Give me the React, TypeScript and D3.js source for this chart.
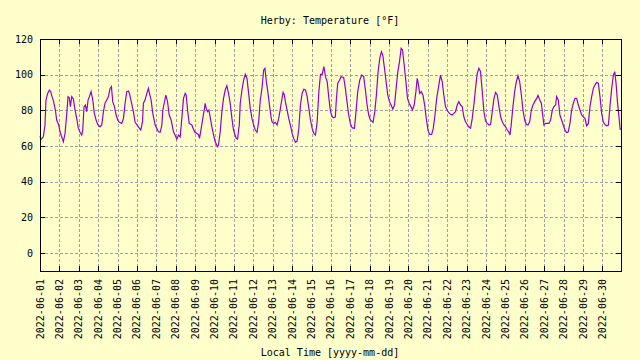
import React, { useEffect, useRef } from 'react';
import * as d3 from 'd3';

// hours since 2022-06-01 00:00 local time, and the reading at that hour (°F)
const hourOffsets = [
  0, 1.2, 4.1, 6.2, 7.4, 9.5, 11.6, 13.2, 14.9, 16.9, 19, 20.7, 23.1, 24.8, 26.8, 28.9,
  31, 33, 34.7, 36.3, 37.6, 39.3, 41.3, 43.4, 45.4, 47.5, 49.6, 51.6, 52.9, 54.5, 56.2, 57.8,
  59.5, 61.1, 63.2, 65.3, 67.3, 69.4, 71.4, 74.3, 76.4, 78.5, 80.5, 82.6, 84.7, 86.7, 88.4, 90,
  92.1, 94.2, 96.2, 98.3, 101.2, 103.3, 105.3, 107.4, 109.5, 110.7, 112.5, 115.6, 117.7, 121.8, 124.7, 126.8,
  128, 130, 132.2, 134.2, 135.5, 137.5, 139.6, 142.5, 146.6, 148.7, 150.8, 152, 153.7, 155.7, 157.8, 159.9,
  162.3, 165.2, 168.1, 169.3, 171.4, 173.5, 175.5, 177.6, 179.7, 180.9, 182.6, 184.6, 187.9, 191.2, 194.1, 196.1,
  197.4, 199.5, 201.5, 203.2, 204.4, 205.7, 207.3, 209, 210.6, 212.7, 214.8, 216.8, 219.7, 220.9, 223, 225.1,
  227.1, 229.2, 231.3, 233.3, 235.4, 237.5, 239.5, 242.8, 244.5, 246.6, 247.8, 249.9, 252, 254, 256.1, 258.2,
  260.2, 262.3, 264.4, 266.4, 268.5, 270.6, 272.6, 274.7, 276.8, 278.4, 280.1, 282.2, 284.2, 285.9, 287.1, 289.2,
  291.3, 293.4, 295.4, 297.5, 299.5, 300.8, 302.4, 303.7, 305.8, 307.8, 309.9, 312, 314, 316.1, 318.2, 320.3,
  322.3, 324.4, 326.5, 328.5, 330.6, 332.7, 334.7, 336.8, 338.9, 340.9, 343, 345.1, 347.1, 349.2, 351.3, 353.3,
  355.4, 357.5, 359.5, 361.6, 363.4, 365.5, 366.7, 368.4, 370.8, 372.5, 375.8, 377.9, 379.9, 382, 384.1, 386.2,
  389.1, 391.1, 393.2, 395.7, 398.1, 400.6, 402.7, 404.8, 406.8, 408.9, 412.2, 414.3, 416.3, 418.4, 420.5, 422.5,
  424.2, 426.3, 428.3, 430.4, 432.5, 434.5, 436.6, 438.7, 440.7, 442.8, 444.9, 446.9, 448.6, 450.7, 452.8, 454.8,
  456.9, 459, 461, 463.1, 465.2, 466.8, 468.1, 469.8, 471.8, 473.9, 476, 478, 480.1, 482.2, 484.7, 486.7,
  488.8, 490.9, 492.9, 495.6, 497.7, 499.7, 501.8, 503.9, 505.9, 508, 510.1, 512.2, 514.2, 516.3, 518.3, 520.4,
  522.5, 524.5, 526.6, 528.7, 530.7, 532.8, 534.9, 536.9, 539, 541.1, 543.2, 545.2, 547.3, 549.4, 551.4, 553.5,
  555.6, 557.6, 559.7, 561.8, 563.8, 565.9, 568, 570, 572.1, 574.2, 576.2, 578.3, 580.4, 581.6, 583.3, 585.3,
  587.4, 589.5, 591.5, 593.6, 595.7, 597.7, 599.8, 601.9, 603.9, 606, 608.1, 610.1, 612.2, 614.7, 616.3, 618.4,
  620.5, 621.6, 623.6, 625.7, 629.8, 631.9, 634, 636, 638.1, 639.3, 641.4, 643.4, 645.5, 647.6, 649.6, 651.7,
  653.8, 655.8, 657.9, 660, 662, 664.1, 666.2, 668.2, 670.3, 672.4, 674.4, 676.5, 678.6, 680.6, 682.7, 684.8,
  686.8, 688.9, 691, 693, 695.1, 697.2, 699.3, 701.3, 703.4, 705.5, 707.5, 709.6, 711.3, 712.9, 714.6, 716.7,
  717.9, 719,
];

const tempsF = [
  65.6, 63.7, 65.2, 71.8, 85.8, 89.5, 91.4, 90.5, 87.7, 84.9, 80.2, 74.6, 71.8, 68, 65.2, 62.4,
  67.1, 77.4, 87.7, 87.1, 82.1, 87.7, 86.4, 80.2, 75.5, 69.9, 67.7, 66.2, 69, 82.1, 83, 79.3,
  85.8, 87.7, 90.5, 85.8, 78.3, 74.6, 72.1, 70.8, 71.8, 79.3, 84, 85.8, 87.7, 92.3, 93.3, 84.9,
  82.1, 77.4, 74.6, 73.3, 72.7, 75.5, 84, 90.5, 90.8, 89.5, 85.8, 79.3, 73.3, 70.8, 69, 73.6,
  84, 85.8, 89.5, 92.3, 89.5, 85.8, 78.3, 71.8, 68, 67.7, 71.8, 80, 84, 88.6, 84.9, 77.4,
  74.6, 68, 65.2, 63.9, 66.2, 65.2, 75.5, 86.7, 89.5, 88.6, 80.2, 72.7, 71.8, 68, 67.1, 66.5,
  64.3, 69.9, 75.5, 80.2, 83.9, 81.1, 79.3, 80.2, 76.4, 70.8, 66.2, 62.4, 59.6, 60.6, 68, 79.3,
  86.7, 91.4, 93.8, 89.5, 84, 75.5, 69, 64.3, 63.9, 71.8, 84, 91.4, 97, 100.2, 98, 89.5,
  81.1, 75.5, 71.8, 69, 67.7, 73.6, 85.8, 92.3, 102.6, 103.6, 96.1, 89.5, 82.1, 76.4, 73.6, 72.7,
  73.3, 71.8, 75.5, 81.1, 86.7, 90.1, 88.6, 84.9, 80.2, 75.5, 71.8, 67.1, 64.3, 62.1, 62.8, 69.9,
  83, 89.5, 91.8, 91.4, 87.7, 81.1, 74.6, 69.9, 67.1, 66.2, 73.6, 90.5, 100.2, 100.2, 104.5, 98.9,
  96.1, 86.7, 79.3, 76.4, 75.9, 76.4, 85.8, 95.1, 97, 98.9, 98.5, 92.3, 84.9, 77.4, 72.7, 70.3,
  69.9, 79.3, 90.5, 97, 99.8, 98.9, 91.4, 83, 77.4, 74.6, 73.3, 79.3, 88.6, 101.7, 109.2, 112.9,
  111, 103.6, 96.1, 88.6, 84.9, 83, 80.7, 83, 92.3, 101.7, 107.3, 114.8, 113.8, 105.4, 96.1, 86.7,
  83.9, 82.1, 80.2, 83, 90.5, 98, 95.1, 89.5, 90.5, 88.6, 83, 75.5, 69, 66.5, 66.5, 69.9,
  77.4, 86.7, 92.3, 99.8, 96.1, 88.6, 82.1, 80.2, 78.7, 77.8, 77.4, 78.3, 79.3, 83, 84.9, 83,
  82.1, 76.4, 73.6, 72.1, 70.8, 69.9, 75.5, 83, 92.3, 100.7, 103.6, 101.7, 90.5, 79.3, 74, 72.7,
  71.8, 72.1, 79.3, 86.7, 90.1, 88.6, 82.1, 76.4, 73.6, 71.8, 70.8, 69, 67.7, 66.2, 72.7, 82.1,
  90.5, 96.1, 99.4, 96.1, 88.6, 80.2, 74.6, 72.1, 71.8, 73.6, 80.2, 83, 84.9, 86.7, 88.4, 86,
  83.9, 79.3, 71.8, 72.7, 72.7, 74.6, 80.2, 82.1, 83, 87.7, 85.8, 77.4, 74.6, 71.8, 69, 67.5,
  68, 72.7, 80.2, 83.9, 86.7, 86.7, 83, 80.2, 77.4, 76.4, 75.5, 71.4, 72.7, 82.1, 87.7, 92.3,
  94.2, 95.7, 95.1, 87.7, 78.3, 73.3, 72.1, 71.4, 71.8, 83, 92.3, 99.8, 101.7, 95.1, 84.9, 75.5,
  69.5, 69.5,
];

const yTickValues = [0, 20, 40, 60, 80, 100, 120];
const startDay = new Date(2022, 5, 1, 0, 0);
const endTime = new Date(2022, 5, 30, 23, 0);

const App: React.FC = () => {
  const svgRef = useRef<SVGSVGElement | null>(null);

  useEffect(() => {
    if (!svgRef.current) return;
    const svg = d3.select(svgRef.current);
    svg.selectAll('*').remove();

    const width = 640;
    const height = 360;
    const left = 40, right = 621, top = 39, bottom = 271;
    const font = '"DejaVu Sans Mono", "Liberation Mono", monospace';
    const tickLen = 5;

    const x = d3.scaleTime().domain([startDay, endTime]).range([left, right]);
    const y = d3.scaleLinear().domain([-10, 120]).range([bottom, top]);
    const days = d3.timeDay.range(startDay, endTime);
    const fmt = d3.timeFormat('%Y-%m-%d');

    svg.append('rect').attr('width', width).attr('height', height).style('fill', '#ffffcc');

    // dashed grid
    svg.selectAll('line.vgrid')
      .data(days.slice(1))
      .enter()
      .append('line')
      .attr('class', 'vgrid')
      .attr('x1', (d) => Math.round(x(d)) + 0.5)
      .attr('x2', (d) => Math.round(x(d)) + 0.5)
      .attr('y1', top)
      .attr('y2', bottom)
      .style('stroke', '#a0a0a0')
      .style('stroke-width', 1)
      .style('stroke-dasharray', '3,2');

    svg.selectAll('line.hgrid')
      .data(yTickValues.filter((v) => v < 120))
      .enter()
      .append('line')
      .attr('class', 'hgrid')
      .attr('x1', left)
      .attr('x2', right)
      .attr('y1', (d) => Math.round(y(d)) + 0.5)
      .attr('y2', (d) => Math.round(y(d)) + 0.5)
      .style('stroke', '#a0a0a0')
      .style('stroke-width', 1)
      .style('stroke-dasharray', '3,2');

    // temperature line
    const points = hourOffsets.map((h, i) => ({ t: d3.timeMinute.offset(startDay, Math.round(h * 60)), v: tempsF[i] }));
    const line = d3.line<{ t: Date; v: number }>()
      .x((d) => x(d.t))
      .y((d) => y(d.v));
    svg.append('path')
      .datum(points)
      .attr('d', line)
      .style('fill', 'none')
      .style('stroke', '#9400d3')
      .style('stroke-width', 1.2)
      .style('stroke-linejoin', 'miter');

    // border
    svg.append('rect')
      .attr('x', left + 0.5)
      .attr('y', top + 0.5)
      .attr('width', right - left)
      .attr('height', bottom - top)
      .style('fill', 'none')
      .style('stroke', 'black')
      .style('stroke-width', 1);

    // ticks on all four sides, pointing inward
    const ticks = svg.append('g').style('stroke', 'black').style('stroke-width', 1);
    yTickValues.forEach((v) => {
      const yy = Math.round(y(v)) + 0.5;
      ticks.append('line').attr('x1', left).attr('x2', left + tickLen).attr('y1', yy).attr('y2', yy);
      ticks.append('line').attr('x1', right - tickLen).attr('x2', right).attr('y1', yy).attr('y2', yy);
    });
    days.forEach((d) => {
      const xx = Math.round(x(d)) + 0.5;
      ticks.append('line').attr('x1', xx).attr('x2', xx).attr('y1', top).attr('y2', top + tickLen);
      ticks.append('line').attr('x1', xx).attr('x2', xx).attr('y1', bottom - tickLen).attr('y2', bottom);
    });

    // y labels
    svg.selectAll('text.ylab')
      .data(yTickValues)
      .enter()
      .append('text')
      .attr('class', 'ylab')
      .attr('x', 33)
      .attr('y', (d) => y(d))
      .attr('dy', '0.35em')
      .attr('text-anchor', 'end')
      .style('font-family', font)
      .style('font-size', '10px')
      .text((d) => d);

    // x labels, rotated
    svg.selectAll('text.xlab')
      .data(days)
      .enter()
      .append('text')
      .attr('class', 'xlab')
      .attr('transform', (d) => `translate(${x(d)},${bottom + 8}) rotate(-90)`)
      .attr('dy', '0.35em')
      .attr('text-anchor', 'end')
      .style('font-family', font)
      .style('font-size', '10px')
      .text((d) => fmt(d));

    svg.append('text')
      .attr('x', 330)
      .attr('y', 20)
      .attr('dy', '0.35em')
      .attr('text-anchor', 'middle')
      .style('font-family', font)
      .style('font-size', '10px')
      .text('Herby: Temperature [°F]');

    svg.append('text')
      .attr('x', 330)
      .attr('y', 352)
      .attr('dy', '0.35em')
      .attr('text-anchor', 'middle')
      .style('font-family', font)
      .style('font-size', '10px')
      .text('Local Time [yyyy-mm-dd]');
  }, []);

  return (
    <svg ref={svgRef} width={640} height={360} style={{ position: 'fixed', left: 0, top: 0 }}>
    </svg>
  );
};

export default App;
